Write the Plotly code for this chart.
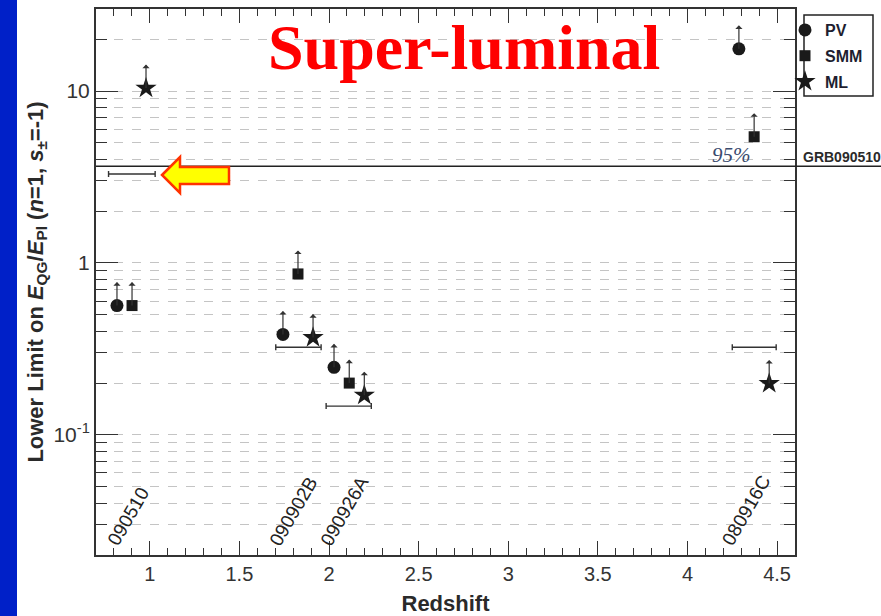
import numpy as np
import plotly.graph_objects as go

# Bursts and their redshifts (labels drawn along the bottom of the frame)
grb_names = ["090510", "090902B", "090926A", "080916C"]
grb_redshift = [0.903, 1.822, 2.106, 4.35]

# Lower limits on E_QG/E_Pl from the three methods (points offset in z per method)
pv_z = [0.817, 1.743, 2.028, 4.287]
pv_lim = [0.565, 0.384, 0.247, 17.6]
smm_z = [0.901, 1.827, 2.113, 4.372]
smm_lim = [0.565, 0.863, 0.200, 5.42]
ml_z = [0.979, 1.911, 2.197, 4.456]
ml_lim = [10.4, 0.368, 0.170, 0.199]

# Horizontal bars (z span and level)
bar_z_lo = [0.77, 1.703, 1.984, 4.25]
bar_z_hi = [1.03, 1.956, 2.236, 4.495]
bar_lim = [3.29, 0.323, 0.147, 0.323]

# 95% limit from GRB090510
limit_95 = 3.65

x_ticks = [1, 1.5, 2, 2.5, 3, 3.5, 4, 4.5]
y_ticks = [0.1, 1, 10]
y_ticktext = ["10<sup>-1</sup>", "1", "10"]

W, H = 881, 616
ML, MR, MT, MB = 96, 86, 9, 61
PW, PH = W - ML - MR, H - MT - MB


def px(xp):
    return (xp - ML) / PW


def py(yp):
    return (H - MB - yp) / PH


ink = "#1a1a1a"
fig = go.Figure()

# horizontal bars with end caps
bar_mid = [(a + b) / 2 for a, b in zip(bar_z_lo, bar_z_hi)]
bar_half = [(b - a) / 2 for a, b in zip(bar_z_lo, bar_z_hi)]
fig.add_trace(go.Scatter(
    x=bar_mid, y=bar_lim, mode="markers",
    marker=dict(size=1, color="rgba(0,0,0,0)"),
    error_x=dict(type="data", array=bar_half, symmetric=True,
                 color="#333333", thickness=1.4, width=3),
    showlegend=False, hoverinfo="skip"))

fig.add_trace(go.Scatter(x=pv_z, y=pv_lim, mode="markers", name="PV", legendgroup="pv",
                         marker=dict(symbol="circle", size=13, color=ink)))
fig.add_trace(go.Scatter(x=smm_z, y=smm_lim, mode="markers", name="SMM", legendgroup="smm",
                         marker=dict(symbol="square", size=11, color=ink)))
fig.add_trace(go.Scatter(x=ml_z, y=ml_lim, mode="markers", name="ML", legendgroup="ml",
                         marker=dict(symbol="star", size=16, color=ink)))

annotations = []
# upward arrows marking lower limits
for zs, vs in ((pv_z, pv_lim), (smm_z, smm_lim), (ml_z, ml_lim)):
    for z, v in zip(zs, vs):
        annotations.append(dict(
            x=z, y=np.log10(v), xref="x", yref="y", text="",
            showarrow=True, ax=0, ay=-25, arrowside="start",
            arrowhead=2, arrowsize=1.3, arrowwidth=1.2, arrowcolor="#333333"))

# burst names, rotated
for name, z in zip(grb_names, grb_redshift):
    annotations.append(dict(
        x=z, y=py(552), xref="x", yref="paper", text=name, showarrow=False,
        textangle=-60, xshift=-4,
        font=dict(family="Liberation Sans, Arial", size=19, color="#222222")))

annotations += [
    dict(x=px(464), y=py(48), xref="paper", yref="paper", showarrow=False,
         text="<b>Super-luminal</b>", xanchor="center", yanchor="middle",
         font=dict(family="Liberation Serif, Times New Roman", size=64, color="#ff0000")),
    dict(x=px(731), y=py(155), xref="paper", yref="paper", showarrow=False,
         text="<i>95%</i>", xanchor="center", yanchor="middle",
         font=dict(family="Liberation Serif, Times New Roman", size=21, color="#3a4a6e")),
    dict(x=px(801), y=py(157), xref="paper", yref="paper", showarrow=False,
         text="<b>GRB090510</b>", xanchor="left", yanchor="middle",
         font=dict(family="Liberation Sans, Arial", size=14, color="#2a2a2a")),
]

# yellow block arrow pointing at the 090510 bar
arrow_pts = [(162, 175), (180, 157), (180, 167), (229, 167), (229, 184),
             (180, 184), (180, 193)]
arrow_path = "M " + " L ".join(f"{px(a):.5f},{py(b):.5f}" for a, b in arrow_pts) + " Z"

shapes = [
    # left blue band
    dict(type="rect", xref="paper", yref="paper", x0=px(0), x1=px(17),
         y0=py(H), y1=py(0), fillcolor="#0020c8", line=dict(width=0), layer="below"),
    # 95% line, running out past the frame
    dict(type="line", xref="paper", yref="y", x0=0, x1=px(W), y0=limit_95, y1=limit_95,
         line=dict(color="#222222", width=1.5)),
    dict(type="path", xref="paper", yref="paper", path=arrow_path,
         fillcolor="#ffff00", line=dict(color="#ff3300", width=2.5)),
    # legend frame
    dict(type="rect", xref="paper", yref="paper", x0=px(804), x1=px(873),
         y0=py(96), y1=py(15), line=dict(color="#222222", width=1.5)),
]

axis_font = dict(family="Liberation Sans, Arial", size=20, color="#333333")

fig.update_layout(
    width=W, height=H,
    margin=dict(l=ML, r=MR, t=MT, b=MB),
    paper_bgcolor="white", plot_bgcolor="white",
    showlegend=True,
    legend=dict(x=px(785), y=py(13), xanchor="left", yanchor="top",
                bgcolor="rgba(0,0,0,0)", borderwidth=0,
                font=dict(family="Liberation Sans, Arial", size=16, color="#1e1e30",
                          weight="bold"),
                itemwidth=30, tracegroupgap=2),
    annotations=annotations,
    shapes=shapes,
    xaxis=dict(
        range=[0.7, 4.6], tickvals=x_ticks, ticktext=[f"{v:g}" for v in x_ticks],
        ticks="inside", ticklen=14, tickwidth=1.3, tickcolor="#333333",
        minor=dict(dtick=0.1, tick0=0, ticks="inside", ticklen=7, tickwidth=1.2,
                   tickcolor="#333333"),
        showline=True, linecolor="#333333", linewidth=2, mirror="allticks",
        showgrid=False, zeroline=False, tickfont=axis_font, automargin=False,
        title=dict(text="<b>Redshift</b>", standoff=12,
                   font=dict(family="Liberation Sans, Arial", size=22, color="#2a2a2a")),
    ),
    yaxis=dict(
        type="log", range=[np.log10(0.02), np.log10(30)],
        tickvals=y_ticks, ticktext=y_ticktext, automargin=False,
        ticks="inside", ticklen=22, tickwidth=1.3, tickcolor="#333333",
        minor=dict(dtick="D1", ticks="inside", ticklen=11, tickwidth=1.2,
                   tickcolor="#333333", showgrid=True, gridcolor="#c4c4c4",
                   griddash="dash", gridwidth=1),
        showgrid=True, gridcolor="#c4c4c4", griddash="dash", gridwidth=1,
        showline=True, linecolor="#333333", linewidth=2, mirror="allticks",
        zeroline=False, tickfont=dict(family="Liberation Sans, Arial", size=21, color="#333333"),
        title=dict(text="<b>Lower Limit on <i>E</i><sub>QG</sub>/<i>E</i><sub>Pl</sub> "
                        "(<i>n</i>=1, <i>s</i><sub>±</sub>=-1)</b>",
                   standoff=4,
                   font=dict(family="Liberation Sans, Arial", size=22, color="#2a2a2a")),
    ),
)

fig.write_html("out.html")
